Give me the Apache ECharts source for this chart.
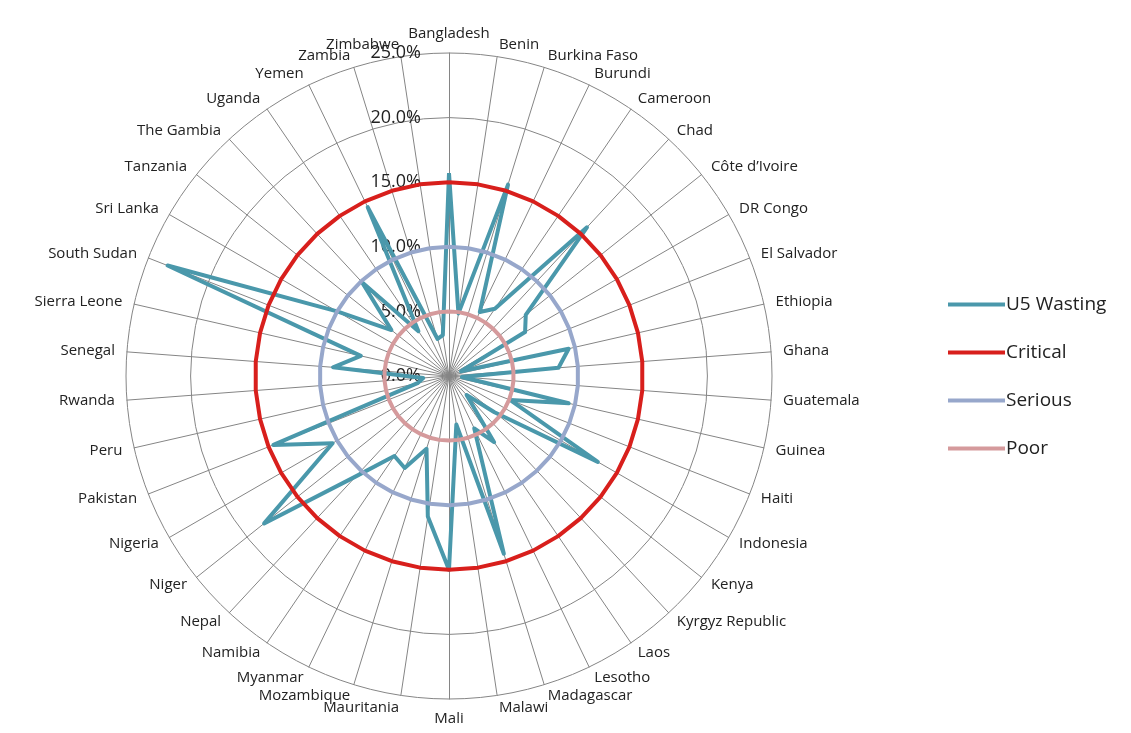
<!DOCTYPE html>
<html><head><meta charset="utf-8">
<script src="https://cdn.jsdelivr.net/npm/echarts@6/dist/echarts.min.js"></script>
<style>html,body{margin:0;padding:0;background:#fff}#c{width:1131px;height:733px}</style>
</head><body><div id="c"></div>
<script>
const categories = ['Bangladesh','Benin','Burkina Faso','Burundi','Cameroon','Chad','Côte d’Ivoire','DR Congo','El Salvador','Ethiopia','Ghana','Guatemala','Guinea','Haiti','Indonesia','Kenya','Kyrgyz Republic','Laos','Lesotho','Madagascar','Malawi','Mali','Mauritania','Mozambique','Myanmar','Namibia','Nepal','Niger','Nigeria','Pakistan','Peru','Rwanda','Senegal','Sierra Leone','South Sudan','Sri Lanka','Tanzania','The Gambia','Uganda','Yemen','Zambia','Zimbabwe'];
const wasting = [15.7,4.9,15.5,5.5,6.3,15.7,7.6,6.8,1.0,9.5,8.5,1.0,9.5,5.1,13.3,4.5,2.0,6.2,4.5,14.4,3.8,15.0,11.0,5.9,7.9,7.5,10.6,18.3,10.4,14.6,2.5,2.0,9.0,7.0,23.4,10.0,5.7,9.9,4.2,14.5,3.0,3.2];
const critical = [15,15,15,15,15,15,15,15,15,15,15,15,15,15,15,15,15,15,15,15,15,15,15,15,15,15,15,15,15,15,15,15,15,15,15,15,15,15,15,15,15,15];
const serious = [10,10,10,10,10,10,10,10,10,10,10,10,10,10,10,10,10,10,10,10,10,10,10,10,10,10,10,10,10,10,10,10,10,10,10,10,10,10,10,10,10,10];
const poor = [5,5,5,5,5,5,5,5,5,5,5,5,5,5,5,5,5,5,5,5,5,5,5,5,5,5,5,5,5,5,5,5,5,5,5,5,5,5,5,5,5,5];
const tickLabels = ['0.0%','5.0%','10.0%','15.0%','20.0%','25.0%'];
const seriesNames = ['U5 Wasting','Critical','Serious','Poor'];
const colors = ['#4a98ab','#d81f1c','#97a7cb','#d59a9c'];

// ECharts radar runs counter-clockwise; visit categories as [0, n-1, ..., 1] so they read clockwise
const order = categories.map((_, i) => (i === 0 ? 0 : categories.length - i));
const indicator = order.map((idx, j) => {
  const o = { name: categories[idx], min: 0, max: 25 };
  if (j === 0) o.axisLabel = { show: true };
  return o;
});
const values = [wasting, critical, serious, poor].map(arr => order.map(idx => arr[idx]));
const chart = echarts.init(document.getElementById('c'), null, { renderer: 'canvas' });
chart.setOption({
  animation: false,
  color: colors,
  legend: {
    orient: 'vertical', left: 943, top: 290, itemGap: 29,
    itemWidth: 57, itemHeight: 4, icon: 'rect',
    textStyle: { fontFamily: 'Open Sans', fontSize: 19, color: '#222', padding: [0,0,0,-4] },
    data: seriesNames
  },
  radar: {
    center: [449, 376], radius: 323, startAngle: 90, shape: 'circle',
    splitNumber: 5, indicator: indicator,
    nameGap: 12,
    axisName: { color: '#222', fontFamily: 'Open Sans', fontSize: 15 },
    axisLine: { lineStyle: { color: '#858585', width: 1 } },
    splitLine: { lineStyle: { color: '#858585', width: 1 } },
    splitArea: { show: false },
    axisTick: { show: false },
    axisLabel: { show: false, margin: 28, color: '#222', fontFamily: 'Open Sans', fontSize: 18,
      formatter: v => tickLabels[Math.round(v / 5)] }
  },
  series: seriesNames.map((nm, k) => ({
    type: 'radar', name: nm, symbol: 'none', z: 2 + k,
    lineStyle: { width: 4, color: colors[k] },
    itemStyle: { color: colors[k] },
    data: [{ name: nm, value: values[k] }]
  }))
});
</script></body></html>
